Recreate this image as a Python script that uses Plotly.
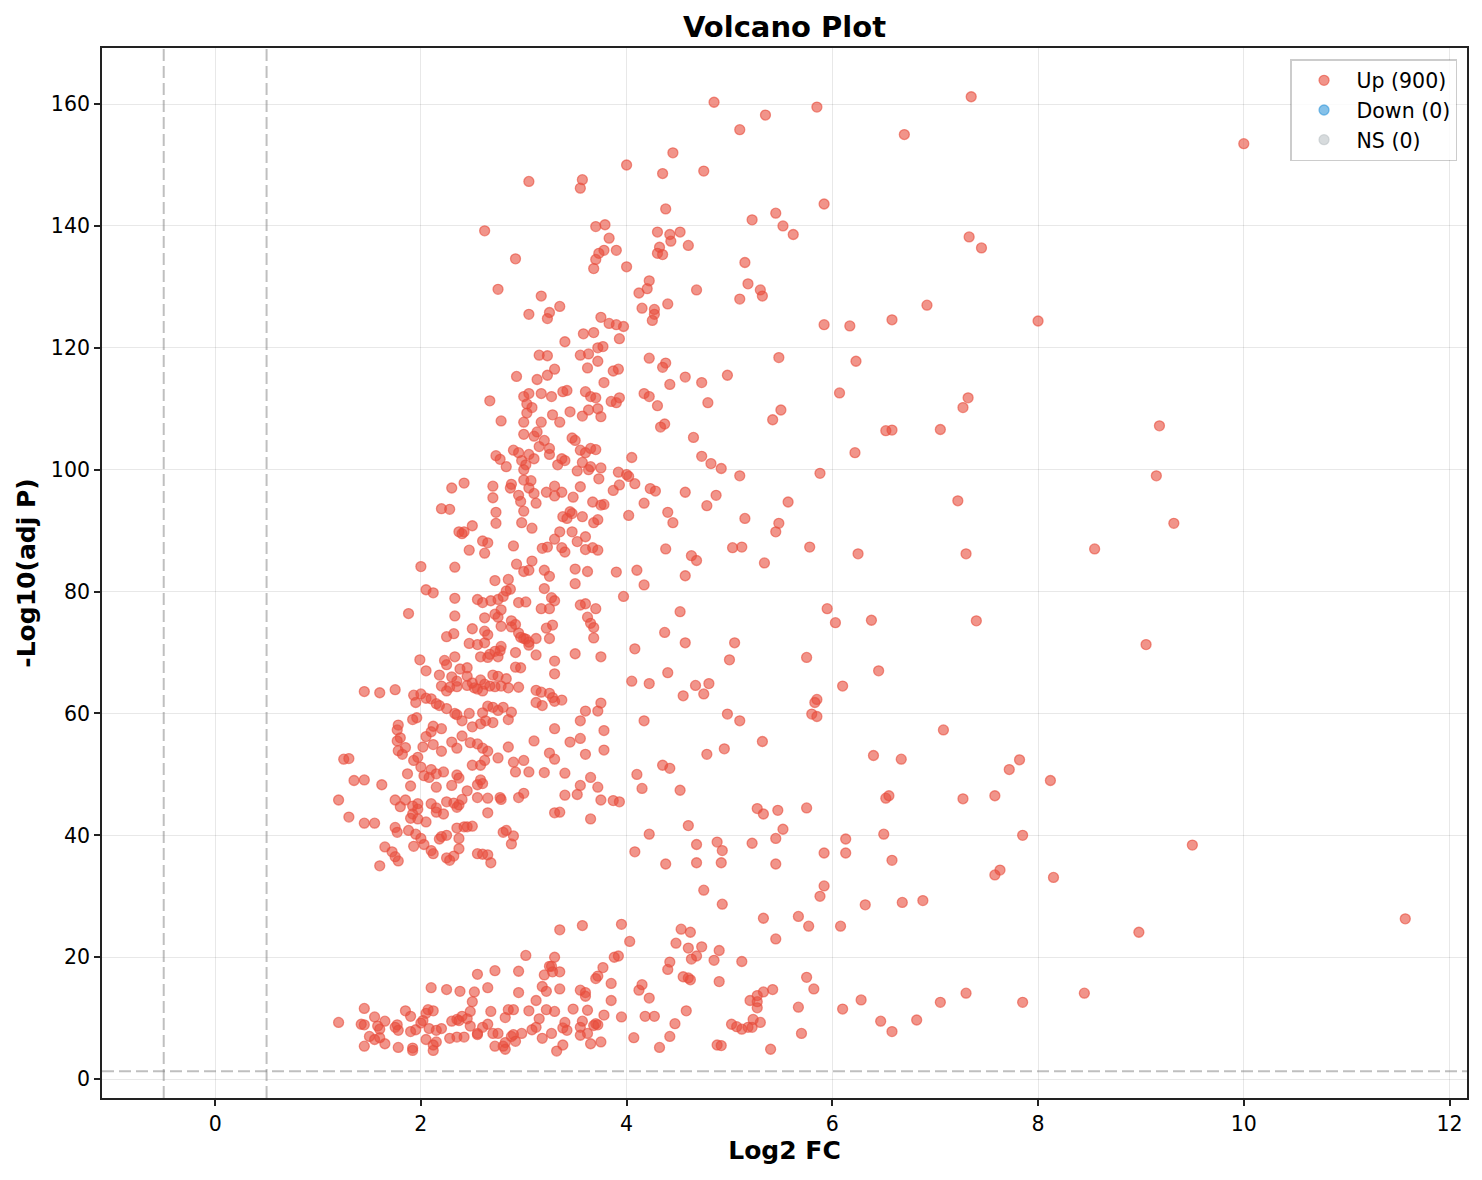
import numpy as np
import plotly.graph_objects as go

# Points, (log2 FC, -log10 adj P), grouped by region
points_top = [
    (4.85, 160.3), (5.85, 159.5), (7.35, 161.2), (5.35, 158.2), (5.1, 155.8), (6.7, 155), (10.0, 153.5),
    (4.45, 152), (4.0, 150), (4.75, 149), (4.35, 148.6), (3.05, 147.3), (3.57, 147.6), (3.55, 146.2),
    (5.92, 143.6), (4.38, 142.8), (5.45, 142.1), (5.22, 141), (5.52, 140), (3.79, 140.2), (3.7, 139.9),
    (2.62, 139.2), (4.3, 139), (4.52, 139), (4.42, 138.6), (5.62, 138.6), (7.33, 138.2), (3.83, 138),
    (4.43, 137.5), (4.32, 136.5), (4.6, 136.8), (7.45, 136.4), (3.78, 136), (3.73, 135.5), (3.9, 136),
    (4.3, 135.5), (4.35, 135.3), (2.92, 134.6), (3.7, 134.5), (5.15, 134), (3.68, 133), (4.0, 133.3),
    (4.22, 131), (5.18, 130.5), (4.2, 129.7), (2.75, 129.6), (4.68, 129.5), (5.3, 129.5), (4.12, 129),
    (5.32, 128.5), (3.17, 128.5), (5.1, 128), (4.4, 127.2), (3.35, 126.8), (6.92, 127), (4.15, 126.5),
    (4.27, 126.3), (3.25, 125.8), (3.05, 125.5), (3.75, 125), (3.23, 124.8), (4.27, 125.5), (3.83, 124),
    (3.9, 123.8), (3.97, 123.5), (4.25, 124.5), (6.58, 124.6), (8.0, 124.4), (5.92, 123.8), (6.17, 123.6),
    (3.58, 122.3), (3.68, 122.5), (3.93, 121.5), (3.4, 121), (3.72, 120), (3.77, 120.2), (3.63, 119),
    (3.55, 118.8), (3.15, 118.8), (3.23, 118.7), (4.22, 118.3), (5.48, 118.4), (6.23, 117.8), (3.72, 117.8),
    (4.38, 117.5), (3.62, 116.7), (3.3, 116.5), (4.35, 116.8), (3.87, 116.2), (3.92, 116.5), (4.57, 115.2),
    (4.98, 115.5), (2.93, 115.3), (3.23, 115.5), (3.13, 114.8), (3.78, 114.3), (4.42, 114), (4.73, 114.3),
    (3.42, 113), (3.6, 112.8), (3.38, 112.8), (3.17, 112.5), (3.05, 112.5), (3.27, 112), (3.0, 112),
    (4.17, 112.5), (4.22, 112), (3.7, 111.8), (3.65, 112), (3.93, 111.8), (3.85, 111.2), (3.9, 111),
    (2.67, 111.3), (4.79, 111), (6.07, 112.6), (7.32, 111.8), (7.27, 110.2), (3.03, 110.8), (3.08, 110.2),
    (3.72, 110), (3.63, 109.8), (3.45, 109.5), (5.5, 109.8), (3.28, 109), (3.03, 109.3), (3.57, 108.8),
    (3.75, 108.7), (4.3, 110.5), (5.42, 108.2), (2.78, 108), (3.0, 107.8), (3.17, 107.8), (3.35, 107.8),
    (4.37, 107.5), (4.33, 107), (9.18, 107.2), (6.58, 106.5), (6.52, 106.4), (7.05, 106.6), (3.13, 106.2),
    (3.0, 105.8), (3.1, 105.5), (3.47, 105.2), (3.5, 104.8), (4.65, 105.3), (3.2, 104.8), (3.15, 103.8),
    (3.25, 103.5), (3.65, 103.5), (3.55, 103.2), (2.9, 103.2), (2.95, 102.8), (3.6, 102.8), (3.7, 103.3),
    (3.05, 102.5), (3.1, 101.8), (3.25, 102.5), (3.37, 101.8), (3.4, 101.5), (6.22, 102.8), (2.98, 101.5),
    (3.02, 100.8), (3.33, 100.8), (3.57, 101.2), (4.05, 102), (2.73, 102.3), (2.77, 101.7), (3.65, 100.5),
    (3.75, 100.3), (4.73, 102.2), (4.82, 101), (4.92, 100.2), (2.83, 100.5), (3.0, 100), (3.63, 100),
    (3.52, 99.8), (5.1, 99), (5.88, 99.4), (9.15, 99), (3.92, 99.6), (4.0, 99.2), (4.02, 98.9),
]

points_mid = [
    (3.73, 98.5), (3.0, 98.3), (3.07, 98.2), (4.08, 97.7), (3.3, 97.3), (2.88, 97.6), (2.87, 97),
    (2.7, 97.3), (2.3, 97), (2.42, 97.8), (3.05, 97), (3.55, 97.2), (3.87, 96.6), (3.93, 97.5),
    (4.23, 96.9), (4.28, 96.5), (4.57, 96.3), (4.87, 95.8), (3.1, 96.1), (3.3, 95.7), (3.22, 96.3),
    (2.95, 95.8), (2.7, 95.4), (3.48, 95.5), (3.37, 96.3), (4.78, 94.1), (5.57, 94.7), (7.22, 94.9),
    (3.67, 94.7), (3.78, 94.3), (3.75, 94.2), (2.97, 94.8), (3.12, 94.5), (4.17, 94.5), (4.4, 93),
    (3.45, 93.1), (3.47, 92.8), (2.73, 93), (3.0, 93.2), (3.38, 92.3), (3.42, 92), (3.57, 92.3),
    (3.72, 91.8), (3.68, 91.3), (4.02, 92.5), (4.45, 91.3), (5.15, 92), (5.48, 91.2), (9.32, 91.2),
    (2.2, 93.6), (2.28, 93.5), (2.37, 89.8), (2.4, 89.5), (2.42, 89.8), (2.5, 90.8), (2.73, 91.2),
    (2.98, 91.3), (3.08, 90.4), (3.35, 89.8), (3.47, 89.8), (3.6, 89), (3.3, 88.6), (3.52, 88.2),
    (5.45, 89.8), (2.6, 88.3), (2.65, 88), (2.9, 87.5), (3.23, 87.3), (3.18, 87.1), (3.37, 87.2),
    (3.4, 86.5), (3.6, 86.9), (3.67, 87.2), (3.72, 86.8), (4.38, 87), (5.03, 87.2), (5.12, 87.3),
    (5.78, 87.3), (8.55, 87), (2.47, 86.8), (2.62, 86.3), (4.63, 85.9), (4.68, 85.1), (6.25, 86.2),
    (7.3, 86.2), (3.08, 85), (5.34, 84.7), (2.33, 84), (2.93, 84.5), (3.0, 83.3), (3.05, 83.5),
    (3.2, 83.5), (3.25, 82.5), (3.5, 83.7), (3.62, 83.3), (3.9, 83.2), (4.1, 83.5), (4.57, 82.6),
    (2.0, 84.1), (2.05, 80.3), (2.12, 79.8), (2.33, 78.9), (2.72, 81.8), (2.85, 82), (2.87, 80.4),
    (2.83, 80.1), (2.8, 79.2), (2.68, 78.5), (2.55, 78.7), (2.6, 78.2), (2.75, 78.7), (2.95, 78.2),
    (3.02, 78.3), (3.27, 79), (3.3, 78.5), (3.5, 81.3), (3.2, 80.5), (3.6, 78), (3.7, 77.2),
    (3.55, 77.8), (3.97, 79.2), (4.17, 81.1), (5.95, 77.2), (1.88, 76.4), (2.33, 76), (2.72, 76.3),
    (2.75, 75.8), (2.78, 77), (2.62, 75.7), (2.88, 75.2), (3.17, 77.2), (3.25, 77.2), (3.28, 74.5),
    (3.22, 74), (3.62, 75.8), (3.65, 74.8), (3.68, 74.1), (4.52, 76.7), (6.03, 74.9), (6.38, 75.3),
    (7.4, 75.2), (2.5, 73.9), (2.62, 73.5), (2.65, 72.9), (2.78, 74.3), (2.88, 74.2), (2.92, 74.6),
    (2.95, 73.2), (3.0, 72.3), (3.02, 72.2), (3.05, 71.7), (3.12, 72.3), (3.05, 71.2), (2.25, 72.6),
    (2.32, 73.1), (2.47, 71.5), (2.55, 71.3), (2.62, 71.6), (2.72, 70.2), (2.78, 71), (2.77, 70.3),
    (2.92, 70), (2.97, 72.5), (3.25, 72.3), (3.5, 69.8), (3.68, 72.4), (3.75, 69.3), (4.37, 73.3),
    (4.08, 70.6), (4.57, 71.6), (5.05, 71.6), (9.05, 71.3), (1.99, 68.8), (2.23, 68.7), (2.33, 69.3),
    (2.25, 68), (2.45, 67.5), (2.38, 67.3), (2.58, 69.3), (2.67, 69.7), (2.75, 69.3), (2.65, 69.2),
    (2.92, 67.6), (2.97, 67.5), (3.12, 69.6), (3.3, 68.6), (5.0, 68.8), (5.75, 69.2), (2.05, 67),
    (2.18, 66.3), (2.3, 66), (2.35, 65.3), (2.45, 66.1), (2.5, 65), (2.58, 65.5), (2.7, 66.3),
    (2.75, 66.1), (2.83, 65.7), (2.67, 64.5), (3.3, 66.5), (4.4, 66.7), (6.45, 67), (2.2, 64.5),
    (2.28, 64.3), (2.25, 63.7), (2.35, 64.4), (2.45, 64.6), (2.52, 64.2), (2.55, 64.0), (2.6, 63.7),
    (2.62, 64.8), (2.72, 64.4), (2.78, 64.5), (2.85, 64.2), (2.95, 64.3), (3.12, 63.8), (3.17, 63.5),
    (3.25, 63.3), (3.37, 62.2), (2.0, 63.2), (2.05, 62.5), (2.1, 62.4), (1.95, 61.8), (1.93, 63),
    (1.6, 63.4), (1.45, 63.6), (1.75, 63.9), (2.15, 61.6), (2.18, 61.3), (2.25, 60.8), (2.33, 60),
    (2.35, 59.8), (2.4, 58.8), (2.47, 60), (2.6, 60.1), (2.65, 61.2), (2.7, 61), (2.75, 60.5),
    (2.8, 61), (2.88, 60.2), (3.12, 61.8), (3.18, 61.3), (3.28, 62.6), (3.3, 62), (3.75, 61.7),
    (4.05, 65.3), (4.22, 64.9), (4.55, 62.9), (4.67, 64.6), (4.8, 64.9), (4.75, 63.2), (5.85, 62.3),
    (5.83, 61.8), (6.1, 64.5), (1.96, 59.3), (1.92, 59), (2.12, 57.9), (2.1, 57), (2.2, 57.5),
    (2.4, 56.3), (2.5, 57.8), (2.58, 58.3), (2.63, 58.8), (2.7, 58.5), (2.85, 59), (3.3, 57.5),
    (3.55, 58.8), (3.6, 60.4), (3.72, 60.4), (4.17, 58.8), (4.98, 59.9), (5.1, 58.8), (5.8, 59.9),
    (5.85, 59.5), (1.78, 58.1), (1.77, 57.3), (1.8, 56), (1.77, 55.5), (2.05, 56.2), (1.85, 54.4),
    (2.02, 54.5), (2.12, 54.9), (2.3, 55.3), (2.35, 54.3), (2.2, 53.8), (2.48, 55.2), (2.55, 55),
    (2.6, 54.3), (2.65, 53.8), (2.62, 52.3), (2.58, 51.5), (2.5, 51.5), (2.75, 52.7), (2.85, 54.5),
    (2.9, 52), (3.0, 52.3), (3.1, 55.5), (3.25, 53.5), (3.3, 52.5), (3.45, 55.3), (3.55, 55.9),
    (3.6, 53.3), (3.78, 54), (3.78, 57.2), (4.78, 53.3), (4.95, 54.2), (5.32, 55.4), (7.08, 57.3),
    (1.78, 53.9), (1.82, 53.3), (1.97, 52.8), (1.93, 52.3), (1.25, 52.5), (1.3, 52.6), (1.35, 49),
    (1.2, 45.8), (1.45, 49.1), (1.62, 48.3), (1.87, 50.1), (2.0, 51.2), (2.03, 49.8), (2.1, 50.8),
    (2.15, 50.1), (2.08, 49.5), (2.22, 50.4), (2.35, 49.9), (2.37, 49.4), (2.55, 48.3), (2.58, 49.1),
    (2.6, 48.5), (2.92, 50.4), (3.05, 50.4), (3.2, 50.3), (3.4, 50.2), (3.65, 49.5), (4.1, 50),
    (4.35, 51.5), (4.42, 51), (6.4, 53.1), (6.67, 52.5), (7.82, 52.4), (7.72, 50.8), (8.12, 49),
    (1.9, 48.1), (2.15, 47.9), (2.3, 48.2), (2.45, 47.3), (2.65, 46.1), (2.55, 46.2), (2.4, 45.9),
    (2.32, 45.3), (2.25, 45.5), (2.1, 45.2), (2.15, 44.5), (2.35, 44.6), (2.37, 45), (1.97, 45.2),
    (1.85, 45.8), (1.8, 44.7), (1.92, 44.8), (1.97, 44.3), (1.75, 45.8), (2.77, 46.2), (2.78, 45.9),
    (2.95, 46.2), (3.0, 46.9), (3.4, 46.6), (3.52, 46.7), (3.55, 48.2), (3.72, 47.9), (3.75, 45.8),
    (3.87, 45.7), (3.93, 45.5), (4.15, 47.7), (4.52, 47.4), (6.52, 46.1), (6.55, 46.5), (7.27, 46),
    (7.58, 46.5), (1.92, 43.5), (1.9, 42.8), (1.97, 42.7), (2.05, 42.2), (2.15, 43.8), (2.22, 43.5),
    (2.35, 41.2), (2.42, 41.4), (2.45, 41.4), (2.5, 41.5), (2.25, 40), (2.2, 39.8), (2.37, 39.5),
    (2.65, 43.7), (2.83, 40.8), (2.8, 40.5), (2.88, 38.6), (2.9, 39.9), (3.3, 43.7), (3.35, 43.8),
    (3.65, 42.7), (1.3, 43), (1.45, 42), (1.55, 42), (1.75, 41.3), (1.77, 40.5), (1.88, 40.8),
    (1.95, 40.2), (2.0, 39.5), (2.03, 38.5), (1.93, 38.2), (2.18, 39.4), (2.1, 37.5), (2.12, 37),
    (2.25, 36.3), (2.28, 35.9), (2.32, 36.6), (2.37, 37.8), (2.55, 37), (2.6, 36.9), (2.65, 36.8),
    (2.68, 35.5), (1.65, 38.1), (1.72, 37.3), (1.75, 36.5), (1.78, 35.8), (1.6, 35), (4.22, 40.2),
    (4.08, 37.3), (4.38, 35.3), (4.6, 41.6), (4.68, 38.5), (4.88, 38.9), (4.93, 37.5), (4.68, 35.5),
    (4.92, 35.5), (5.22, 38.7), (5.27, 44.4), (5.33, 43.5), (5.47, 44.1), (5.52, 41), (5.45, 39.5),
    (5.45, 35.3), (5.75, 44.5), (5.92, 37.1), (6.13, 39.4), (6.13, 37.1), (6.5, 40.2), (6.58, 35.9),
    (7.85, 40), (9.5, 38.4), (7.58, 33.5), (7.63, 34.3), (8.15, 33.1),
]

points_low = [
    (4.75, 31), (5.92, 31.7), (5.88, 30), (4.93, 28.7), (6.32, 28.6), (6.68, 29), (6.88, 29.3),
    (5.33, 26.4), (5.67, 26.7), (6.08, 25.1), (5.77, 25.1), (8.98, 24.1), (11.57, 26.3), (5.45, 23),
    (3.57, 25.2), (3.95, 25.4), (3.35, 24.5), (4.53, 24.6), (4.62, 24.1), (4.03, 22.6), (4.48, 22.3),
    (4.6, 21.5), (4.73, 21.7), (4.9, 21.1), (3.02, 20.3), (3.3, 20), (3.27, 18.5), (3.35, 17.6),
    (3.92, 20.2), (3.88, 20), (4.68, 20.2), (4.63, 19.7), (4.85, 19.5), (5.12, 19.3), (3.77, 18.3),
    (3.85, 15.7), (3.7, 16.5), (3.72, 16.9), (4.4, 18), (4.42, 19.2), (4.6, 16.6), (4.55, 16.8),
    (4.62, 16.3), (4.9, 16), (5.75, 16.7), (2.72, 17.8), (2.55, 17.2), (2.95, 17.7), (3.2, 17.1),
    (3.28, 17.6), (3.25, 18.5), (3.18, 15.2), (3.35, 14.8), (3.22, 14.4), (3.55, 14.6), (2.65, 15),
    (2.1, 15), (2.25, 14.7), (2.38, 14.4), (2.52, 14.3), (2.95, 14.2), (3.12, 12.9), (3.6, 14.2),
    (3.6, 13.6), (3.85, 12.9), (4.12, 14.6), (4.15, 15.5), (4.22, 13.3), (5.2, 12.9), (5.27, 12.7),
    (5.27, 13.7), (5.33, 14.3), (5.42, 14.7), (5.82, 14.8), (6.28, 13), (7.3, 14.1), (8.45, 14.1),
    (1.45, 11.6), (1.55, 10.2), (1.85, 11.2), (1.9, 10.3), (2.05, 10.8), (2.07, 11.4), (2.12, 11.2),
    (2.35, 9.8), (2.4, 10.3), (2.5, 12.7), (2.48, 11.1), (2.68, 11.1), (2.85, 11.4), (2.9, 11.4),
    (2.82, 10.1), (3.05, 11.2), (3.22, 11.4), (3.3, 11.1), (3.48, 11.5), (3.15, 9.9), (3.62, 11.3),
    (3.7, 9.1), (3.78, 10.5), (3.95, 10.2), (4.18, 10.3), (4.27, 10.3), (4.47, 9.1), (4.58, 11.2),
    (5.02, 9), (5.12, 8.2), (5.22, 8.5), (5.27, 11.7), (5.3, 9.3), (5.67, 11.8), (5.7, 7.5),
    (6.1, 11.5), (6.47, 9.5), (6.58, 7.8), (6.82, 9.7), (7.05, 12.6), (7.85, 12.6), (1.2, 9.3),
    (1.42, 9), (1.45, 8.9), (1.58, 8.7), (1.6, 8.2), (1.65, 9.5), (1.75, 8.5), (1.77, 8.9),
    (1.78, 8.0), (1.9, 7.8), (1.95, 8.1), (2.0, 9.2), (2.02, 9.6), (2.08, 8.3), (2.15, 8.0),
    (2.2, 8.3), (2.3, 9.5), (2.37, 9.6), (2.45, 9.9), (2.48, 8.7), (2.55, 7.5), (2.6, 8.5),
    (2.65, 9), (2.7, 7.5), (2.75, 7.5), (2.82, 6), (2.88, 7), (2.9, 7.3), (2.98, 7.5),
    (3.08, 8.1), (3.12, 8.5), (3.27, 7.5), (3.38, 8.4), (3.4, 9.3), (3.42, 8), (3.55, 8.5),
    (3.57, 9.5), (3.62, 7.5), (3.68, 8.8), (3.72, 8.9), (1.5, 7), (1.6, 6.8), (1.55, 6.5),
    (1.65, 5.8), (1.45, 5.4), (1.78, 5.2), (1.92, 5.1), (1.92, 4.7), (2.05, 6.5), (2.12, 5.6),
    (2.15, 6.1), (2.12, 4.7), (2.28, 6.7), (2.35, 6.9), (2.42, 6.9), (2.55, 7.3), (2.72, 5.4),
    (2.8, 5.4), (2.82, 4.9), (2.92, 6.2), (3.18, 6.7), (3.32, 4.6), (3.38, 5.6), (3.55, 7.2),
    (3.65, 5.8), (3.75, 6.1), (4.07, 6.8), (4.32, 5.2), (4.42, 7), (4.88, 5.6), (4.92, 5.5),
    (5.07, 8.6), (5.18, 8.5), (5.4, 4.9), (5.23, 9.8),
]

up_label = "Up (900)"
down_label = "Down (0)"
ns_label = "NS (0)"

fc_cut = 0.5
p_cut = -np.log10(0.05)

up = np.array(points_top + points_mid + points_low)
log2fc, neglogp = up[:, 0], up[:, 1]


def marker_style(rgb):
    c = f'rgba({rgb},0.6)'
    return dict(color=c, size=10, line=dict(color=c, width=1.3))


fig = go.Figure()
fig.add_trace(go.Scatter(x=log2fc, y=neglogp, mode='markers', name=up_label,
                         marker=marker_style('231,76,60')))
fig.add_trace(go.Scatter(x=[None], y=[None], mode='markers', name=down_label,
                         marker=marker_style('52,152,219')))
fig.add_trace(go.Scatter(x=[None], y=[None], mode='markers', name=ns_label,
                         marker=marker_style('189,195,199')))

# threshold lines
dashed = dict(color='rgba(128,128,128,0.5)', width=2, dash='12px,5px')
for xv in (-fc_cut, fc_cut):
    fig.add_vline(x=xv, line=dashed)
fig.add_hline(y=p_cut, line=dashed)

axis_common = dict(
    showline=True, linecolor='#222222', linewidth=1.8, mirror=True,
    ticks='outside', ticklen=6, tickwidth=1.5, tickcolor='#222222',
    showgrid=True, gridcolor='rgba(0,0,0,0.09)', gridwidth=1.2,
    zeroline=False, tickfont=dict(size=20.5, color='black'), automargin=False,
)

fig.update_layout(
    width=1466, height=1164,
    font=dict(family='DejaVu Sans', color='black'),
    paper_bgcolor='white', plot_bgcolor='white',
    title=dict(text='<b>Volcano Plot</b>', x=0.5, xref='paper', xanchor='center',
               y=1 - 19 / 1164, yanchor='middle', font=dict(size=29)),
    margin=dict(l=94, r=7, t=40, b=74),
    xaxis=dict(axis_common, range=[-1.1, 12.17], dtick=2,
               title=dict(text='<b>Log2 FC</b>', font=dict(size=25), standoff=6)),
    yaxis=dict(axis_common, range=[-3.1, 169.2], dtick=20,
               title=dict(text='<b>-Log10(adj P)</b>', font=dict(size=25), standoff=8)),
    legend=dict(x=0.9927, y=0.9895, xanchor='right', yanchor='top',
                bgcolor='rgba(255,255,255,0.8)', bordercolor='rgba(0,0,0,0.2)', borderwidth=1.5,
                font=dict(size=20.5), itemwidth=55),
    showlegend=True,
)

fig.write_html("out.html")
